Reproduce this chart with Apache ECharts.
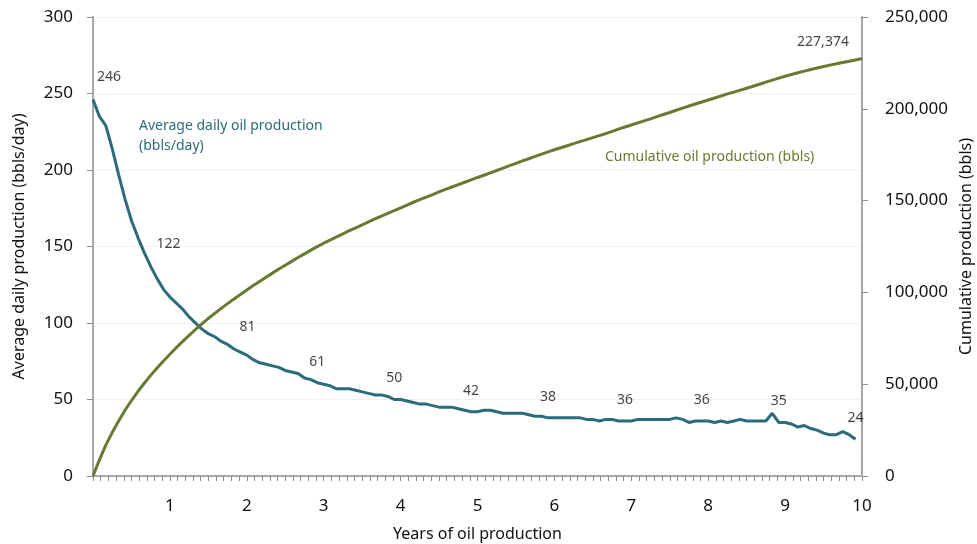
<!DOCTYPE html>
<html>
<head>
<meta charset="utf-8">
<script src="https://cdn.jsdelivr.net/npm/echarts@6/dist/echarts.min.js"></script>
<style>
  html, body { margin: 0; padding: 0; background: #fff; }
  #chart { width: 977px; height: 544px; }
</style>
</head>
<body>
<div id="chart"></div>
<script>
// monthly average daily oil production (bbls/day), month 0..119
const dailyProduction = [
  246, 235, 229, 214, 197, 181, 167, 156, 146, 137, 129, 122,
  117, 113, 109, 104, 100, 96, 93, 91, 88, 86, 83, 81,
  79, 76, 74, 73, 72, 71, 69, 68, 67, 64, 63, 61,
  60, 59, 57, 57, 57, 56, 55, 54, 53, 53, 52, 50,
  50, 49, 48, 47, 47, 46, 45, 45, 45, 44, 43, 42,
  42, 43, 43, 42, 41, 41, 41, 41, 40, 39, 39, 38,
  38, 38, 38, 38, 38, 37, 37, 36, 37, 37, 36, 36,
  36, 37, 37, 37, 37, 37, 37, 38, 37, 35, 36, 36,
  36, 35, 36, 35, 36, 37, 36, 36, 36, 36, 41, 35,
  35, 34, 32, 33, 31, 30, 28, 27, 27, 29, 27, 24
]

// cumulative oil production (bbls), month 0..120
const cumulativeProduction = [
  0, 8800, 16800, 23700, 30000, 35800, 41100, 46000, 50500, 54800, 58800, 62600,
  66300, 69900, 73300, 76600, 79800, 82900, 85800, 88600, 91300, 93900, 96400, 98900,
  101300, 103700, 106000, 108300, 110500, 112700, 114800, 116900, 119000, 121000, 123000, 124900,
  126800, 128500, 130200, 131900, 133600, 135200, 136800, 138400, 140000, 141600, 143100, 144600,
  146100, 147600, 149100, 150500, 151900, 153300, 154700, 156100, 157400, 158700, 160000, 161300,
  162600, 163800, 165100, 166400, 167700, 169000, 170300, 171600, 172800, 174100, 175300, 176500,
  177700, 178800, 179900, 181000, 182100, 183200, 184300, 185400, 186500, 187700, 188900, 190100,
  191200, 192300, 193400, 194500, 195700, 196900, 198000, 199200, 200400, 201500, 202600, 203700,
  204800, 205900, 207000, 208100, 209100, 210200, 211200, 212300, 213400, 214500, 215600, 216700,
  217700, 218700, 219600, 220500, 221400, 222200, 223000, 223800, 224500, 225200, 225900, 226600,
  227374
]

// months whose value is written on the chart
const dailyLabelMonths = [0, 11, 23, 35, 47, 59, 71, 83, 95, 107, 119]
const cumulativeLabelMonths = [120]

const xRange = [0, 10]

const teal = '#2b6b7b'
const olive = '#687a31'
const axisGray = '#a8a8a8'
const tickGray = '#8c8c8c'
const font = 'Noto Sans'

// label nudges in pixels, keyed by month
const dailyLabelOffset = {
  0: [16, -23],
  11: [5, -45],
  23: [7, -25]
}

function commas(v) {
  return String(Math.round(v)).replace(/\B(?=(\d{3})+(?!\d))/g, ',')
}

const chart = echarts.init(document.getElementById('chart'))

chart.setOption({
  animation: false,
  textStyle: { fontFamily: font },
  grid: { left: 93, right: 115, top: 17, bottom: 68, outerBoundsMode: 'none' },
  xAxis: {
    type: 'value',
    min: xRange[0],
    max: xRange[1],
    interval: 0.1,
    name: 'Years of oil production',
    nameLocation: 'middle',
    nameGap: 50,
    nameTextStyle: { fontSize: 16, color: '#111', fontFamily: font },
    axisLine: { lineStyle: { color: axisGray, width: 2 } },
    axisTick: { show: true, length: 5, lineStyle: { color: tickGray, width: 1 } },
    splitLine: { show: false },
    axisLabel: {
      margin: 22,
      fontSize: 17,
      color: '#111',
      formatter: (v) => {
        const r = Math.round(v)
        return Math.abs(v - r) < 1e-6 && r !== 0 ? String(r) : ''
      }
    }
  },
  yAxis: [
    {
      type: 'value',
      min: 0,
      max: 300,
      interval: 50,
      name: 'Average daily production (bbls/day)',
      nameLocation: 'middle',
      nameGap: 66,
      nameTextStyle: { fontSize: 16, color: '#111', fontFamily: font },
      axisLine: { show: true, lineStyle: { color: axisGray, width: 2 } },
      axisTick: { show: true, length: 6, lineStyle: { color: tickGray, width: 1 } },
      splitLine: { lineStyle: { color: '#f0f0f0', width: 1 } },
      axisLabel: { margin: 20, fontSize: 17, color: '#111' }
    },
    {
      type: 'value',
      position: 'right',
      min: 0,
      max: 250000,
      interval: 50000,
      name: 'Cumulative production (bbls)',
      nameLocation: 'middle',
      nameGap: 96,
      nameTextStyle: { fontSize: 16, color: '#111', fontFamily: font },
      axisLine: { show: true, lineStyle: { color: axisGray, width: 2 } },
      axisTick: { show: true, length: 6, lineStyle: { color: tickGray, width: 1 } },
      splitLine: { show: false },
      axisLabel: { margin: 23, fontSize: 17, color: '#111', formatter: commas }
    }
  ],
  graphic: [
    {
      type: 'text',
      left: 139,
      top: 116,
      style: {
        text: 'Average daily oil production\n(bbls/day)',
        fill: teal,
        font: '14px "Noto Sans"',
        lineHeight: 20
      }
    },
    {
      type: 'text',
      left: 605,
      top: 150,
      style: {
        text: 'Cumulative oil production (bbls)',
        fill: olive,
        font: '14px "Noto Sans"'
      }
    }
  ],
  series: [
    {
      name: 'Average daily oil production',
      type: 'line',
      yAxisIndex: 0,
      data: dailyProduction.map((v, i) => [i / 12, v]),
      showSymbol: false,
      lineStyle: { color: teal, width: 3 },
      itemStyle: { color: teal },
      z: 3
    },
    {
      name: 'Cumulative oil production',
      type: 'line',
      yAxisIndex: 1,
      data: cumulativeProduction.map((v, i) => [i / 12, v]),
      showSymbol: false,
      lineStyle: { color: olive, width: 3 },
      itemStyle: { color: olive },
      z: 4
    },
    {
      type: 'scatter',
      yAxisIndex: 0,
      symbolSize: 1,
      itemStyle: { color: 'rgba(0,0,0,0)' },
      silent: true,
      z: 5,
      data: dailyLabelMonths.map((m) => ({
        value: [m / 12, dailyProduction[m]],
        label: {
          show: true,
          position: 'inside',
          offset: dailyLabelOffset[m] || [0, -21],
          formatter: (p) => String(p.value[1]),
          fontSize: 14,
          color: '#111',
          fontFamily: font
        }
      }))
    },
    {
      type: 'scatter',
      yAxisIndex: 1,
      symbolSize: 1,
      itemStyle: { color: 'rgba(0,0,0,0)' },
      silent: true,
      z: 5,
      data: cumulativeLabelMonths.map((m) => ({
        value: [m / 12, cumulativeProduction[m]],
        label: {
          show: true,
          position: 'inside',
          offset: [-39, -17],
          formatter: (p) => commas(p.value[1]),
          fontSize: 14,
          color: '#111',
          fontFamily: font
        }
      }))
    }
  ]
})
</script>
</body>
</html>
